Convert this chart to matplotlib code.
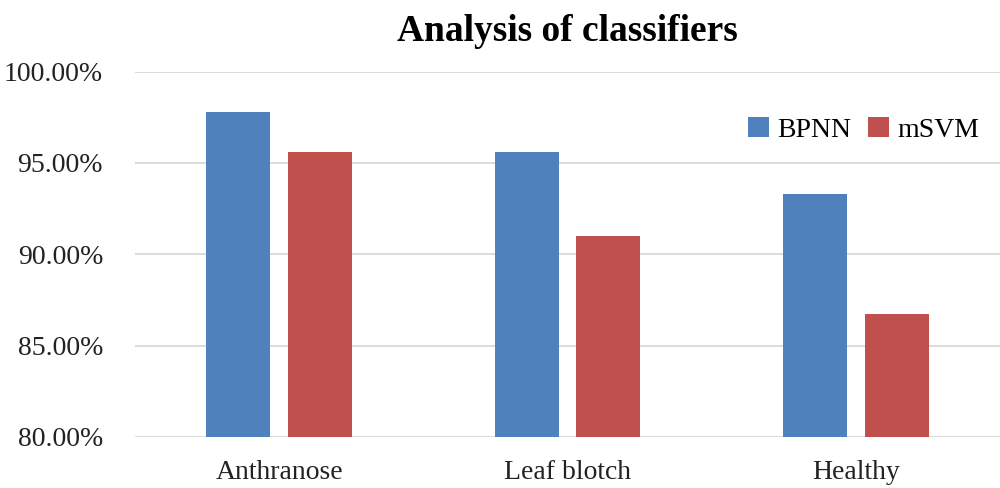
import numpy as np
import matplotlib.pyplot as plt
from matplotlib.ticker import FuncFormatter

# Data
categories = ['Anthranose', 'Leaf blotch', 'Healthy']
bpnn = [97.8, 95.6, 93.3]
msvm = [95.6, 91.0, 86.7]

plt.rcParams['font.family'] = ['Liberation Serif', 'DejaVu Serif']

fig = plt.figure(figsize=(10, 4.88), dpi=100)
ax = fig.add_axes([0.135, 0.105, 0.865, 0.748])

x = np.arange(len(categories))
w = 0.222
ax.bar(x - 0.142, bpnn, w, color='#4f81bd', label='BPNN', zorder=3)
ax.bar(x + 0.142, msvm, w, color='#c0504d', label='mSVM', zorder=3)

ax.set_ylim(80, 100)
ax.set_xlim(-0.5, 2.5)
ax.set_yticks([80, 85, 90, 95, 100])
ax.yaxis.set_major_formatter(FuncFormatter(lambda v, p: f'{v:.2f}%'))
ax.grid(axis='y', color='#d9d9d9', linewidth=1.3, zorder=0)
ax.set_xticks(x)
ax.set_xticklabels(categories)
ax.tick_params(axis='both', length=0, labelsize=20, colors='#222222')
ax.tick_params(axis='y', pad=23)
ax.tick_params(axis='x', pad=17)
for s in ax.spines.values():
    s.set_visible(False)

ax.set_title('Analysis of classifiers', fontsize=27, fontweight='bold', pad=22)
ax.legend(loc='upper right', bbox_to_anchor=(1.005, 0.945), ncol=2, frameon=False,
          fontsize=20, handlelength=0.75, handleheight=0.75, handletextpad=0.3,
          columnspacing=0.6)

fig.savefig('out.png', dpi=100)
